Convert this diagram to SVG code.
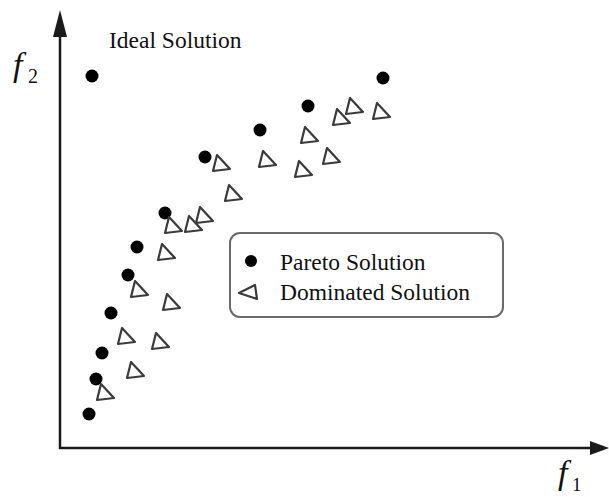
<svg xmlns="http://www.w3.org/2000/svg" xmlns:xlink="http://www.w3.org/1999/xlink" width="609" height="497" viewBox="0 0 609 497">
<style>
text{font-family:'Liberation Serif',serif;fill:#111}
.t{font-size:23.5px}
.it{font-style:italic}
.axis{stroke:#1a1a1a;stroke-width:2.5;fill:none}
.dot{fill:#000}
.tri{fill:none;stroke:#3a3a3a;stroke-width:2.2;stroke-linejoin:round}
</style>
<defs>
<circle id="d" r="6.5" class="dot"/>
<path id="t" d="M-3,-9 L-7,7 L10,5 Z" class="tri"/>
</defs>
<rect width="609" height="497" fill="#fff"/>
<g id="connectors">
<line class="axis" x1="60" y1="449" x2="60" y2="32"/>
<polygon points="60,10 53,37 67,37" fill="#1a1a1a"/>
<line class="axis" x1="59" y1="448" x2="592" y2="448"/>
<polygon points="609,448 590,441 590,455" fill="#1a1a1a"/>
</g>
<g id="axis-labels">
<text class="it" x="13" y="76" font-size="34">f</text>
<text x="28" y="83" font-size="20">2</text>
<text class="it" x="558" y="484" font-size="34">f</text>
<text x="572" y="491" font-size="19">1</text>
</g>
<g id="ideal">
<use xlink:href="#d" x="92" y="76"/>
<text class="t" x="109" y="48">Ideal Solution</text>
</g>
<g id="pareto">
<use xlink:href="#d" x="383" y="78"/>
<use xlink:href="#d" x="308" y="106"/>
<use xlink:href="#d" x="260" y="130"/>
<use xlink:href="#d" x="205" y="157"/>
<use xlink:href="#d" x="165" y="213"/>
<use xlink:href="#d" x="137" y="247"/>
<use xlink:href="#d" x="128" y="275"/>
<use xlink:href="#d" x="111" y="313"/>
<use xlink:href="#d" x="102" y="353"/>
<use xlink:href="#d" x="96" y="379"/>
<use xlink:href="#d" x="89" y="414"/>
</g>
<g id="dominated">
<use xlink:href="#t" x="353" y="107"/>
<use xlink:href="#t" x="340" y="118"/>
<use xlink:href="#t" x="380" y="112"/>
<use xlink:href="#t" x="308" y="136"/>
<use xlink:href="#t" x="330" y="157"/>
<use xlink:href="#t" x="266" y="160"/>
<use xlink:href="#t" x="302" y="170"/>
<use xlink:href="#t" x="220" y="164"/>
<use xlink:href="#t" x="232" y="194"/>
<use xlink:href="#t" x="203" y="216"/>
<use xlink:href="#t" x="192" y="225"/>
<use xlink:href="#t" x="172" y="226"/>
<use xlink:href="#t" x="165" y="253"/>
<use xlink:href="#t" x="138" y="290"/>
<use xlink:href="#t" x="170" y="303"/>
<use xlink:href="#t" x="125" y="337"/>
<use xlink:href="#t" x="159" y="342"/>
<use xlink:href="#t" x="134" y="371"/>
<use xlink:href="#t" x="104" y="393"/>
</g>
<g id="legend">
<rect x="230" y="233" width="273" height="84" rx="10" fill="#fff" stroke="#6a6a6a" stroke-width="2"/>
<circle cx="251" cy="261" r="6" class="dot"/>
<text class="t" x="280" y="270">Pareto Solution</text>
<path d="M239,293 L255,285 L257,299 Z" class="tri"/>
<text class="t" x="280" y="300">Dominated Solution</text>
</g>
</svg>
